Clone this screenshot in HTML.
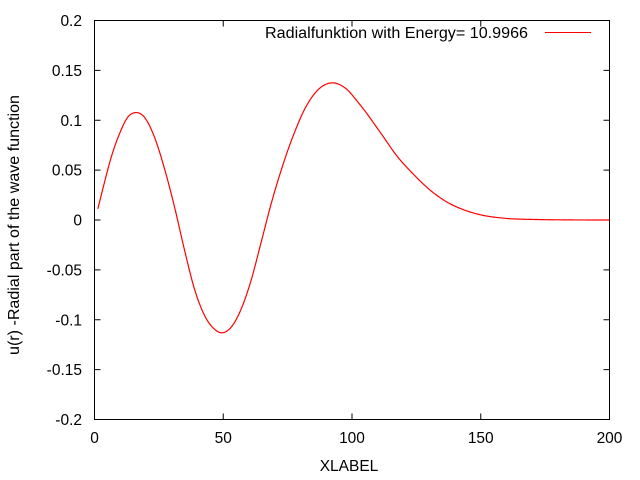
<!DOCTYPE html>
<html><head><meta charset="utf-8"><style>
html,body{margin:0;padding:0;background:#fff;}
svg{display:block;font-family:"Liberation Sans",sans-serif;font-size:15.5px;}
</style></head><body>
<svg id="chart" width="640" height="480" viewBox="0 0 640 480">
<rect width="640" height="480" fill="#fff"/>
<g id="ticks"></g>
<rect x="94.5" y="20.5" width="515" height="399" fill="none" stroke="#000" stroke-width="1"/>
<text x="19" y="225" transform="rotate(-90 19 225)" text-anchor="middle" textLength="260" lengthAdjust="spacingAndGlyphs">u(r) -Radial part of the wave function</text>
<text x="349" y="471" text-anchor="middle">XLABEL</text>
<g>
<text x="265" y="38" textLength="263" lengthAdjust="spacingAndGlyphs">Radialfunktion with Energy= 10.9966</text>
<line x1="545" y1="32.5" x2="591" y2="32.5" stroke="#f00" stroke-width="1"/>
</g>
<path id="curve" fill="none" stroke="#f00" stroke-width="1.2"/>
</svg>
<script>
const rValues = [1.3,3.9,6.5,9.7,12.9,15.5,19.4,23.3,27.2,31.1,35,38.8,42.7,46.6,49.2,53.1,57,60.8,64.7,68.6,73,77.4,82,87,92.3,97,103.3,111.1,117.5,124,130.5,137,143.4,149.9,159,171.6,185,200];
const uValues = [0.0112,0.038,0.063,0.0864,0.103,0.1075,0.103,0.083,0.0513,0.0128,-0.0306,-0.069,-0.0955,-0.1095,-0.113,-0.1074,-0.089,-0.0606,-0.0225,0.0162,0.054,0.086,0.113,0.131,0.1375,0.133,0.115,0.0874,0.064,0.0455,0.0296,0.0178,0.0102,0.0052,0.0018,0.0005,0.0001,0.0];
const xTicks = [0,50,100,150,200];
const yTicks = [-0.2,-0.15,-0.1,-0.05,0,0.05,0.1,0.15,0.2];
const yTickLabels = ["-0.2","-0.15","-0.1","-0.05","0","0.05","0.1","0.15","0.2"];

const X0=94.5,X1=609.5,Y0=419.5,Y1=20.5;
function xs(r){return X0+(r-0)/(200-0)*(X1-X0);}
function ys(v){return Y0-(v+0.2)/0.4*(Y0-Y1);}
const NS="http://www.w3.org/2000/svg";
const tg=document.getElementById('ticks');
function mk(tag,attrs){const e=document.createElementNS(NS,tag);for(const k in attrs)e.setAttribute(k,attrs[k]);return e;}
xTicks.forEach(t=>{
  const x=xs(t);
  const a=mk('line',{x1:x,y1:Y0,x2:x,y2:Y0-6,stroke:'#000'});
  
  
  tg.appendChild(a);
  const b=mk('line',{x1:x,y1:Y1,x2:x,y2:Y1+6,stroke:'#000'});
  
  
  tg.appendChild(b);
  const tx=mk('text',{x:x,y:443,'text-anchor':'middle'});
  tx.textContent=String(t);
  
  
  tg.appendChild(tx);
});
yTicks.forEach((t,i)=>{
  const y=ys(t);
  const a=mk('line',{x1:X0,y1:y,x2:X0+6,y2:y,stroke:'#000'});
  
  
  tg.appendChild(a);
  const b=mk('line',{x1:X1,y1:y,x2:X1-6,y2:y,stroke:'#000'});
  
  
  tg.appendChild(b);
  const tx=mk('text',{x:82,y:y+5.5,'text-anchor':'end'});
  tx.textContent=yTickLabels[i];
  
  
  tg.appendChild(tx);
});
const n=rValues.length;
const m=new Array(n);
for(let i=0;i<n;i++){
  if(i===0){m[i]=(uValues[1]-uValues[0])/(rValues[1]-rValues[0]);}
  else if(i===n-1){m[i]=(uValues[n-1]-uValues[n-2])/(rValues[n-1]-rValues[n-2]);}
  else{
    const h0=rValues[i]-rValues[i-1],h1=rValues[i+1]-rValues[i];
    const d0=(uValues[i]-uValues[i-1])/h0,d1=(uValues[i+1]-uValues[i])/h1;
    m[i]=(d0*h1+d1*h0)/(h0+h1);
  }
}
let pts=[];
for(let i=0;i<n-1;i++){
  const h=rValues[i+1]-rValues[i];
  const steps=Math.max(2,Math.ceil(h*2));
  for(let s=0;s<steps;s++){
    const t=s/steps,t2=t*t,t3=t2*t;
    const v=(2*t3-3*t2+1)*uValues[i]+(t3-2*t2+t)*h*m[i]+(-2*t3+3*t2)*uValues[i+1]+(t3-t2)*h*m[i+1];
    pts.push([xs(rValues[i]+t*h),ys(v)]);
  }
}
pts.push([xs(rValues[n-1]),ys(uValues[n-1])]);
document.getElementById('curve').setAttribute('d','M'+pts.map(p=>p[0].toFixed(2)+','+p[1].toFixed(2)).join(' L'));
</script>
</body></html>
